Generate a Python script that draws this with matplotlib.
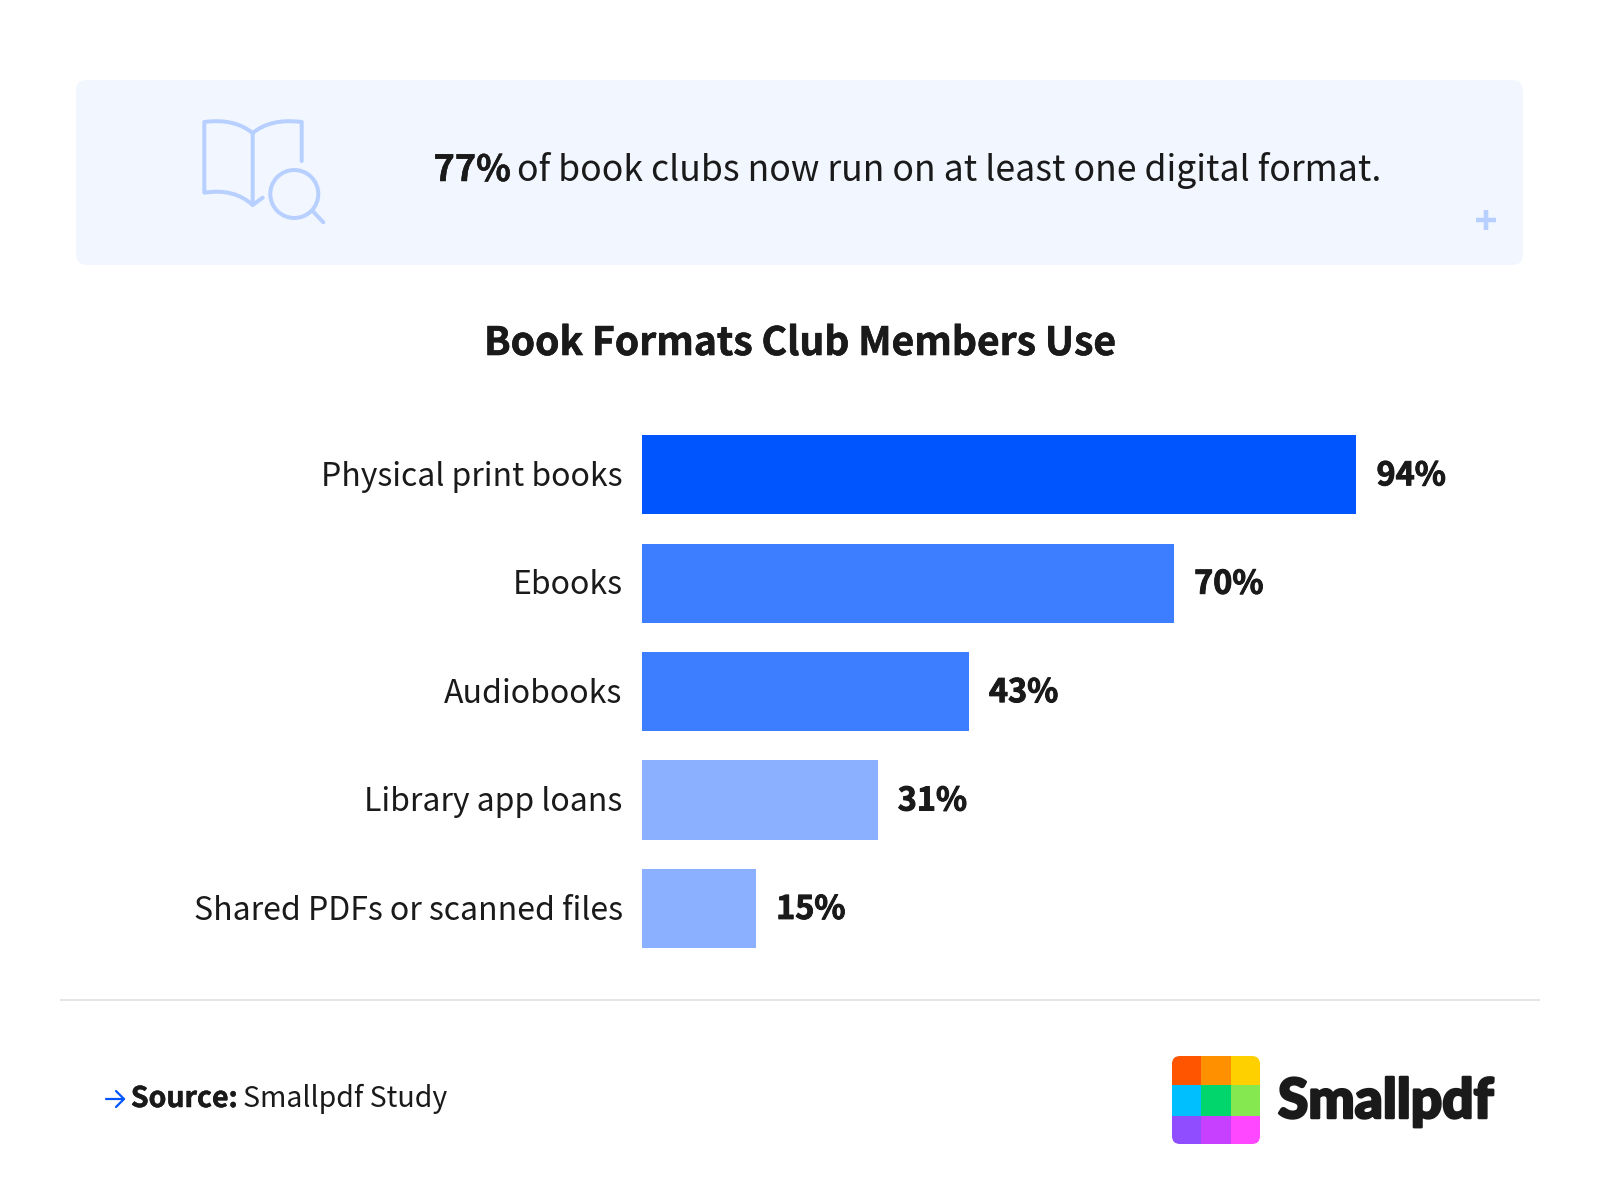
import matplotlib
matplotlib.use("Agg")
import matplotlib.pyplot as plt
import matplotlib.patheffects as pe
from matplotlib.patches import FancyBboxPatch, Rectangle, Circle, PathPatch
from matplotlib.path import Path
from matplotlib.transforms import ScaledTranslation

FONT = ['Noto Sans CJK JP', 'DejaVu Sans']
plt.rcParams['font.family'] = FONT

categories = ["Physical print books", "Ebooks", "Audiobooks", "Library app loans", "Shared PDFs or scanned files"]
values = [94, 70, 43, 31, 15]
bar_colors = ["#0055FF", "#3D7DFF", "#3D7DFF", "#8AB0FF", "#8AB0FF"]
title = "Book Formats Club Members Use"
headline_bold = "77%"
headline_rest = "of book clubs now run on at least one digital format."
INK = "#1A1A1A"
ICON = "#B8D0FF"

W, H = 1600, 1200
fig = plt.figure(figsize=(16, 12), dpi=100, facecolor="white")
bg = fig.add_axes([0, 0, 1, 1])
bg.set_xlim(0, W); bg.set_ylim(H, 0); bg.axis("off")

bg.add_patch(FancyBboxPatch((81, 85), 1437, 175, boxstyle="round,pad=0,rounding_size=5",
                            mutation_aspect=1, fc="#F1F6FF", ec="#F1F6FF", lw=7))

def stroke(verts, codes=None, lw=4, color=ICON, cap="round"):
    bg.add_patch(PathPatch(Path(verts, codes), fc="none", ec=color, lw=lw/1.389,
                           capstyle=cap, joinstyle="round"))

def heavy(px):
    return [pe.withStroke(linewidth=px/1.389, foreground=INK)]

C3 = Path.CURVE3
M, L = Path.MOVETO, Path.LINETO
stroke([(252.7, 133), (234, 118), (204.3, 122), (204.3, 192.7), (234, 188), (252.7, 205), (252.7, 133)],
       [M, C3, C3, L, C3, C3, L])
stroke([(252.7, 205), (262.7, 197.7)])
stroke([(252.7, 133), (271, 118), (301.7, 122), (301.7, 161)], [M, C3, C3, L])
bg.add_patch(Circle((294.3, 194), 24, fc="none", ec=ICON, lw=4/1.389))
stroke([(313.3, 211.7), (323.3, 222.3)])
stroke([(1476, 220), (1496, 220)], lw=4.5, cap="butt")
stroke([(1486, 210), (1486, 230)], lw=4.5, cap="butt")

def pair(x, y, bold, rest, size, rest_size, gap):
    t = bg.text(x, y, bold, fontsize=size, fontweight="bold", color=INK, va="baseline", ha="left")
    t.set_path_effects(heavy(0.5))
    fig.canvas.draw()
    e = t.get_window_extent()
    bg.text(e.x1 + gap, y, rest, fontsize=rest_size, color=INK, va="baseline", ha="left")

pair(433.5, 181, headline_bold, headline_rest, 26, 25.6, 6.5)
bg.text(800, 355, title, fontsize=28.1, fontweight="bold", color=INK, ha="center", va="baseline",
        path_effects=heavy(0.6))

bg.plot([60, 1540], [1000, 1000], color="#E6E6E6", lw=1.5, solid_capstyle="butt")

# chart
ax = fig.add_axes([642/W, 1 - 962.6/H, 760/W, (962.6 - 420.6)/H])
ax.set_xlim(0, 100)
ypos = list(range(len(values)))
ax.set_ylim(len(values) - 0.5, -0.5)
ax.barh(ypos, values, height=0.729, color=bar_colors)
ax.set_yticks(ypos, categories, fontsize=23.05, color=INK, va="center_baseline")
ax.tick_params(axis="y", length=0, pad=14)
up_cat = ScaledTranslation(0, 1.2/100, fig.dpi_scale_trans)
for lab in ax.get_yticklabels():
    lab.set_transform(lab.get_transform() + up_cat)
ax.set_xticks([])
for s in ax.spines.values():
    s.set_visible(False)
ax.patch.set_alpha(0)
up_val = ax.transData + ScaledTranslation(0, 2.5/100, fig.dpi_scale_trans)
for y, v in zip(ypos, values):
    ax.text(v + 2.65, y, f"{v}%", fontsize=23.3, fontweight="bold", color=INK, va="center_baseline", ha="left",
            path_effects=heavy(1.0), transform=up_val)

# footer
stroke([(106, 1099), (124, 1099)], lw=2.2, color="#0055FF")
stroke([(116, 1091), (124, 1099), (116, 1107)], lw=2.2, color="#0055FF")
pair(130.8, 1107, "Source:", "Smallpdf Study", 20.5, 20.5, 5.5)

clip = FancyBboxPatch((1172, 1056), 88, 88, boxstyle="round,pad=0,rounding_size=8", fc="none", ec="none")
bg.add_patch(clip)
xs = [1172, 1200.5, 1231, 1260]
ys = [1056, 1085, 1116, 1144]
logo = [["#FF5500", "#FF9100", "#FFD000"], ["#00BFFF", "#00D66B", "#85E850"], ["#8F4DFF", "#C740FF", "#FF47FF"]]
for r in range(3):
    for c in range(3):
        p = Rectangle((xs[c], ys[r]), xs[c+1]-xs[c], ys[r+1]-ys[r], fc=logo[r][c], ec="none")
        bg.add_patch(p); p.set_clip_path(clip)
bg.text(1278, 1118, "Smallpdf", fontsize=39.6, fontweight="black", family="Lato", color=INK,
        va="baseline", ha="left", path_effects=heavy(2.5))

fig.savefig("out.png", dpi=100)
